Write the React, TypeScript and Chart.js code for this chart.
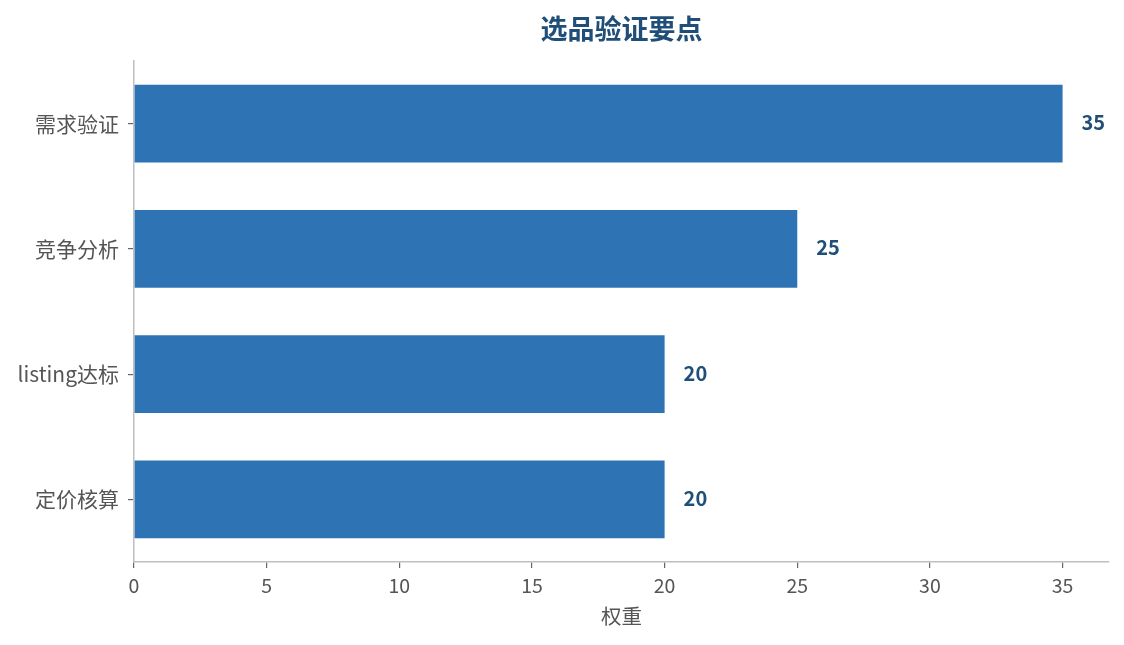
import React, { useEffect, useRef } from "react";
import { Chart, registerables } from "chart.js";

Chart.register(...registerables);

const TITLE = "选品验证要点";
const CATEGORIES = ["需求验证", "竞争分析", "listing达标", "定价核算"];
const WEIGHTS = [35, 25, 20, 20];
const X_TITLE = "权重";
const X_MAX = 36.75;
const X_TICKS = [0, 5, 10, 15, 20, 25, 30, 35];

const FONT = '"Noto Sans CJK SC", "Noto Sans", sans-serif';
const BAR_COLOR = "#2e74b5";
const DARK = "#1f4e79";
const TICK_COLOR = "#555555";
const AXIS_COLOR = "#bfbfbf";

const titlePlugin = {
  id: "centerTitle",
  afterDraw(chart: any) {
    const { ctx, chartArea } = chart;
    ctx.save();
    ctx.font = `bold 27px ${FONT}`;
    ctx.fillStyle = DARK;
    ctx.textAlign = "center";
    ctx.textBaseline = "middle";
    ctx.fillText(TITLE, (chartArea.left + chartArea.right) / 2, 29);
    ctx.restore();
  },
};

const valueLabelPlugin = {
  id: "valueLabels",
  afterDatasetsDraw(chart: any) {
    const { ctx } = chart;
    const meta = chart.getDatasetMeta(0);
    const data = chart.data.datasets[0].data;
    ctx.save();
    ctx.font = `bold 20px ${FONT}`;
    ctx.fillStyle = DARK;
    ctx.textAlign = "left";
    ctx.textBaseline = "middle";
    meta.data.forEach((bar: any, i: number) => {
      ctx.fillText(String(data[i]), bar.x + 19, bar.y - 1);
    });
    ctx.restore();
  },
};

export default function App() {
  const ref = useRef<HTMLCanvasElement>(null);
  useEffect(() => {
    if (!ref.current) return;
    const chart = new Chart(ref.current, {
      type: "bar",
      data: {
        labels: CATEGORIES,
        datasets: [
          {
            data: WEIGHTS,
            backgroundColor: BAR_COLOR,
            borderWidth: 0,
            barPercentage: 0.62,
            categoryPercentage: 1,
          },
        ],
      },
      options: {
        indexAxis: "y",
        animation: false,
        responsive: true,
        maintainAspectRatio: false,
        layout: { padding: { top: 61, right: 15, bottom: 0, left: 0 } },
        plugins: {
          legend: { display: false },
          title: { display: false },
          tooltip: { enabled: false },
        },
        scales: {
          x: {
            type: "linear",
            min: 0,
            max: X_MAX,
            afterBuildTicks: (scale: any) => {
              scale.ticks = X_TICKS.map((v) => ({ value: v }));
            },
            afterFit: (scale: any) => {
              scale.height = 83;
            },
            ticks: {
              color: TICK_COLOR,
              font: { family: FONT, size: 19.5 },
              padding: 6,
              maxRotation: 0,
              autoSkip: false,
            },
            grid: {
              drawOnChartArea: false,
              drawTicks: true,
              tickLength: 6,
              color: "#666666",
              lineWidth: 1.2,
            },
            border: { display: true, color: AXIS_COLOR, width: 1.5 },
            title: {
              display: true,
              text: X_TITLE,
              color: TICK_COLOR,
              font: { family: FONT, size: 20.5 },
              padding: { top: 0, bottom: 16 },
            },
          },
          y: {
            afterFit: (scale: any) => {
              scale.width = 134;
            },
            ticks: {
              color: TICK_COLOR,
              font: { family: FONT, size: 21 },
              padding: 9,
            },
            grid: {
              offset: false,
              drawOnChartArea: false,
              drawTicks: true,
              tickLength: 6,
              color: "#666666",
              lineWidth: 1.2,
            },
            border: { display: true, color: AXIS_COLOR, width: 1.5 },
          },
        },
      },
      plugins: [titlePlugin, valueLabelPlugin],
    });
    return () => chart.destroy();
  }, []);

  return (
    <div
      style={{
        position: "fixed",
        left: 0,
        top: 0,
        width: 1124,
        height: 645,
        background: "#ffffff",
      }}
    >
      <canvas ref={ref} />
    </div>
  );
}
